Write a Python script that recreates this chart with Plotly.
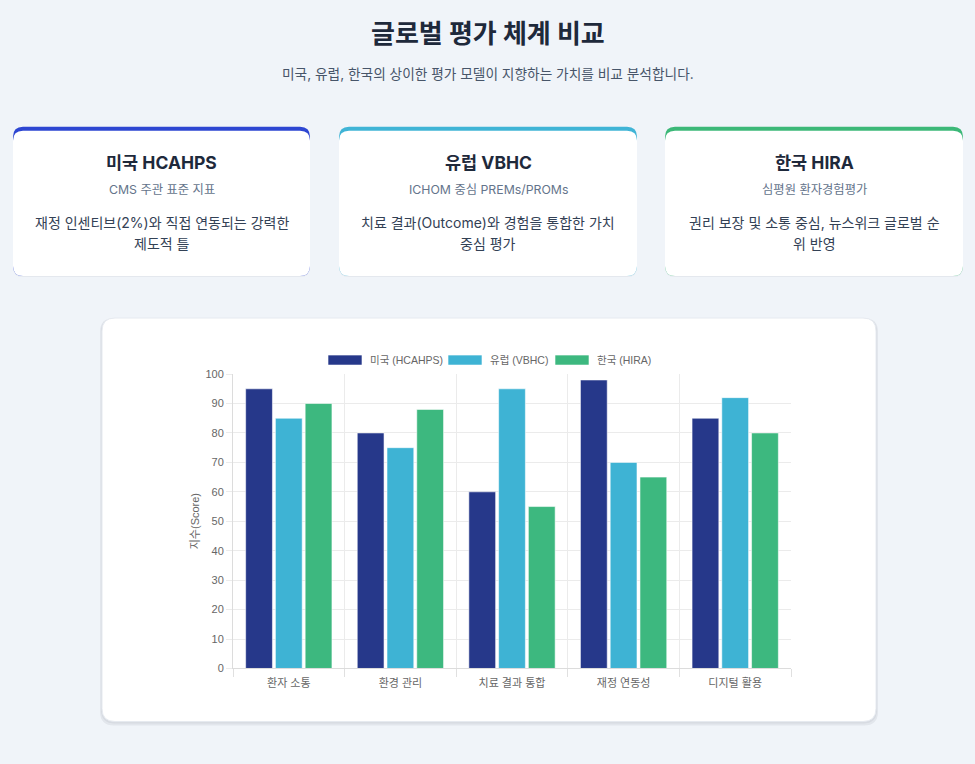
import plotly.graph_objects as go

# chart data
categories = ["환자 소통", "환경 관리", "치료 결과 통합", "재정 연동성", "디지털 활용"]
series_names = ["미국 (HCAHPS)", "유럽 (VBHC)", "한국 (HIRA)"]
us_scores = [95, 80, 60, 98, 85]
eu_scores = [85, 75, 95, 70, 92]
kr_scores = [90, 88, 55, 65, 80]
bar_colors = ["#26388a", "#3eb3d4", "#3db87f"]

# cards above the chart
card_titles = ["미국 HCAHPS", "유럽 VBHC", "한국 HIRA"]
card_subs = ["CMS 주관 표준 지표", "ICHOM 중심 PREMs/PROMs", "심평원 환자경험평가"]
card_descs = [["재정 인센티브(2%)와 직접 연동되는 강력한", "제도적 틀"],
              ["치료 결과(Outcome)와 경험을 통합한 가치", "중심 평가"],
              ["권리 보장 및 소통 중심, 뉴스위크 글로벌 순", "위 반영"]]
card_colors = ["#2d46d2", "#40b4d6", "#3cb878"]

W, H = 975, 764
BG = "#f0f4f9"
UI_FONT = "Inter, Noto Sans CJK KR, sans-serif"
CHART_FONT = "Arial, Noto Sans CJK KR, sans-serif"

# the snapshot squeezes the page a little vertically; undo it
Y_OFF, Y_SCALE = 6.4, 0.983


def px(x):
    return x / W


def py(y):
    return 1 - ((y - Y_OFF) / Y_SCALE) / H


def rounded(x0, y0, x1, y1, r):
    # rounded rectangle path in paper coords (pixel input)
    pts = [
        f"M {px(x0 + r)} {py(y0)}",
        f"L {px(x1 - r)} {py(y0)}",
        f"Q {px(x1)} {py(y0)} {px(x1)} {py(y0 + r)}",
        f"L {px(x1)} {py(y1 - r)}",
        f"Q {px(x1)} {py(y1)} {px(x1 - r)} {py(y1)}",
        f"L {px(x0 + r)} {py(y1)}",
        f"Q {px(x0)} {py(y1)} {px(x0)} {py(y1 - r)}",
        f"L {px(x0)} {py(y0 + r)}",
        f"Q {px(x0)} {py(y0)} {px(x0 + r)} {py(y0)}",
        "Z",
    ]
    return " ".join(pts)


fig = go.Figure()
for name, vals, col in zip(series_names, [us_scores, eu_scores, kr_scores], bar_colors):
    fig.add_trace(go.Bar(
        x=categories, y=vals, name=name,
        marker=dict(color=col, line=dict(color="rgba(255,255,255,0.55)", width=1)),
        showlegend=False,
    ))

shapes = []
annotations = []

# header
annotations.append(dict(x=px(488), y=py(34), text="<b>글로벌 평가 체계 비교</b>",
                        font=dict(size=26, color="#1e293b", family=UI_FONT)))
annotations.append(dict(x=px(488), y=py(74), text="미국, 유럽, 한국의 상이한 평가 모델이 지향하는 가치를 비교 분석합니다.",
                        font=dict(size=13.7, color="#475569", family=UI_FONT)))

# cards
card_x = [(13, 310), (339, 637), (665, 963)]
for (x0, x1), t, s, d, c in zip(card_x, card_titles, card_subs, card_descs, card_colors):
    shapes.append(dict(type="path", path=rounded(x0, 128, x1, 277, 10),
                       fillcolor="rgba(15,23,42,0.05)", line=dict(width=0), layer="below"))
    shapes.append(dict(type="path", path=rounded(x0, 127, x1, 276, 10),
                       fillcolor=c, line=dict(width=0), layer="below"))
    shapes.append(dict(type="path", path=rounded(x0, 131, x1, 276, 10),
                       fillcolor="white", line=dict(width=0), layer="below"))
    cx = (x0 + x1) / 2
    annotations.append(dict(x=px(cx), y=py(163), text=f"<b>{t}</b>",
                            font=dict(size=17.5, color="#1e293b", family=UI_FONT)))
    annotations.append(dict(x=px(cx), y=py(190), text=s,
                            font=dict(size=12.3, color="#64748b", family=UI_FONT)))
    for i, line in enumerate(d):
        annotations.append(dict(x=px(cx), y=py(223 + 21 * i), text=line,
                                font=dict(size=14, color="#334155", family=UI_FONT)))

# chart card with soft shadow
shapes.append(dict(type="path", path=rounded(100, 318, 878, 725, 14),
                   fillcolor="rgba(15,23,42,0.06)", line=dict(width=0), layer="below"))
shapes.append(dict(type="path", path=rounded(101, 318, 877, 723, 14),
                   fillcolor="rgba(15,23,42,0.05)", line=dict(width=0), layer="below"))
shapes.append(dict(type="path", path=rounded(102, 318, 876, 721, 13),
                   fillcolor="white", line=dict(color="#e6eaf0", width=1), layer="below"))

# legend (chart.js style wide boxes)
legend_pos = [(328, 362, 368), (448, 482, 488), (555, 589, 595)]
for (b0, b1, tx), name, col in zip(legend_pos, series_names, bar_colors):
    shapes.append(dict(type="rect", x0=px(b0), x1=px(b1), y0=py(365), y1=py(355),
                       fillcolor=col, line=dict(color="rgba(255,255,255,0.6)", width=1)))
    annotations.append(dict(x=px(tx), y=py(360), text=name, xanchor="left",
                            font=dict(size=10.5, color="#666666", family=CHART_FONT)))

# y axis title
annotations.append(dict(x=px(195), y=py(521), text="지수(Score)", textangle=-90,
                        font=dict(size=11, color="#666666", family=CHART_FONT)))

for a in annotations:
    a.setdefault("xref", "paper")
    a.setdefault("yref", "paper")
    a.setdefault("showarrow", False)
    a.setdefault("xanchor", "center")
    a.setdefault("yanchor", "middle")

for s in shapes:
    s["xref"] = "paper"
    s["yref"] = "paper"

fig.update_layout(
    width=W, height=H,
    margin=dict(l=0, r=0, t=0, b=0),
    paper_bgcolor=BG,
    plot_bgcolor="white",
    barmode="group",
    bargap=0.2,
    bargroupgap=0.1,
    shapes=shapes,
    annotations=annotations,
    xaxis=dict(
        domain=[233 / W, 791 / W],
        tickson="boundaries",
        showgrid=True, gridcolor="#ebebeb",
        ticks="outside", ticklen=8, tickcolor="#e0e0e0",
        ticklabelstandoff=4,
        showline=True, linecolor="#dcdcdc",
        tickfont=dict(size=11, color="#666666", family=CHART_FONT),
        fixedrange=True,
    ),
    yaxis=dict(
        domain=[py(668), py(374)],
        range=[0, 100], dtick=10,
        showgrid=True, gridcolor="#ebebeb",
        ticks="outside", ticklen=6, tickcolor="#ebebeb",
        showline=True, linecolor="#dcdcdc",
        zeroline=False,
        tickfont=dict(size=11, color="#666666", family=CHART_FONT),
        fixedrange=True,
    ),
)

# pin the figure to the window corner so page margins do not shift it
pin = """
document.documentElement.style.margin='0';
document.body.style.margin='0';
document.body.style.overflow='hidden';
var gd = document.getElementById('{plot_id}');
gd.style.position='fixed';
gd.style.top='0px';
gd.style.left='0px';
"""
fig.write_html("out.html", config={"displayModeBar": False}, post_script=pin)
